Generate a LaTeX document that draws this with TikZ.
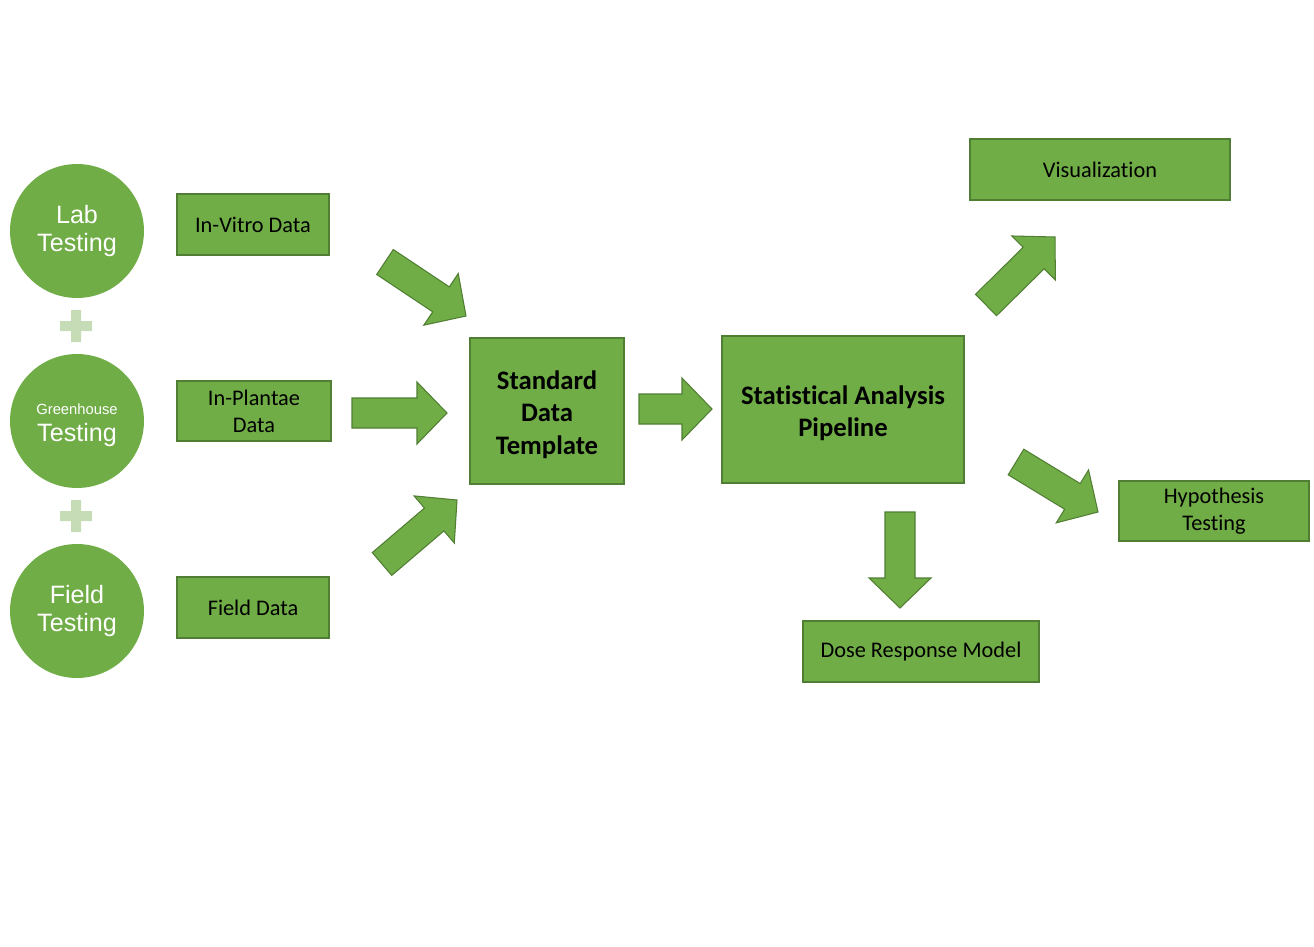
\documentclass[tikz,border=0pt]{standalone}
\usepackage{fontspec}
\setmainfont{Carlito}[RawFeature={-liga;-clig;-dlig}]
\newfontfamily\arialfont{Liberation Sans}
\usetikzlibrary{calc}
\definecolor{leafgreen}{HTML}{70AD47}
\definecolor{leafedge}{HTML}{507E32}
\definecolor{plusgreen}{HTML}{C5DCB6}
\tikzset{
  databox/.style={draw=leafedge, fill=leafgreen, line width=1.1pt, align=center, inner sep=0pt,
    font=\fontsize{12.7}{15.3}\selectfont},
  stagebox/.style={databox, font=\fontsize{15.2}{18.4}\selectfont\bfseries},
  testcircle/.style={circle, fill=leafgreen, minimum size=2.68cm, inner sep=0pt, text=white,
    align=center, font=\arialfont\fontsize{14.3}{15.4}\selectfont},
  fatarrow/.style={fill=leafgreen, draw=leafedge, line width=0.6pt, line join=miter}
}
% block arrow: name, tail, tip
\newcommand{\blockarrow}[3]{%
  \coordinate (#1-h) at ($(#3)!0.6cm!(#2)$);
  \draw[fatarrow] ($(#2)!0.3cm!90:(#3)$) -- ($(#1-h)!0.3cm!90:(#3)$) -- ($(#1-h)!0.62cm!90:(#3)$)
    -- (#3) -- ($(#1-h)!0.62cm!-90:(#3)$) -- ($(#1-h)!0.3cm!-90:(#3)$) -- ($(#2)!0.3cm!-90:(#3)$) -- cycle;}
\begin{document}
\begin{tikzpicture}[x=0.02cm, y=-0.02cm]
  \useasboundingbox (0,0) rectangle (1314,946);

  % Testing stages
  \node[testcircle] (lab) at (77,231) {Lab\\Testing};
  \node[testcircle] (greenhouse) at (77,421) {\rule{0pt}{10.5pt}{\fontsize{8.4}{10}\selectfont Greenhouse}\\Testing};
  \node[testcircle] (field) at (77,611) {Field\\Testing};

  % Plus signs
  \fill[plusgreen] (60,321) rectangle (92,331) (71,310) rectangle (81,342);
  \fill[plusgreen] (60,511) rectangle (92,521) (71,500) rectangle (81,532);

  % Data sources
  \node[databox, minimum width=3.04cm, minimum height=1.22cm] (vitro) at (253,224.5) {In-Vitro Data};
  \node[databox, minimum width=3.08cm, minimum height=1.2cm] (plantae) at (254,411) {In-Plantae\\Data};
  \node[databox, minimum width=3.04cm, minimum height=1.22cm] (fielddata) at (253,607.5) {Field Data};

  % Template and pipeline
  \node[stagebox, minimum width=3.08cm, minimum height=2.92cm] (template) at (547,411) {\rule{0pt}{14.8pt}Standard\\Data\\Template};
  \node[stagebox, minimum width=4.84cm, minimum height=2.94cm] (pipeline) at (843,409.5) {\rule{0pt}{14.8pt}Statistical Analysis\\Pipeline};

  % Outputs
  \node[databox, minimum width=5.2cm, minimum height=1.22cm] (visual) at (1100,169.5) {Visualization};
  \node[databox, minimum width=3.8cm, minimum height=1.2cm] (hypo) at (1214,511) {Hypothesis\\Testing};
  \node[databox, minimum width=4.72cm, minimum height=1.22cm] (dose) at (921,651.5) {Dose Response Model};

  % Arrow ends
  \coordinate (vitroOut) at (385,262);    \coordinate (templateInA) at (466,316);
  \coordinate (plantaeOut) at (352,413);  \coordinate (templateInB) at (447,413);
  \coordinate (fieldOut) at (382,564);    \coordinate (templateInC) at (457,500);
  \coordinate (templateOut) at (639,409); \coordinate (pipelineIn) at (712,409);
  \coordinate (pipeOutA) at (986,305);    \coordinate (visualIn) at (1055,237);
  \coordinate (pipeOutB) at (1016,462);   \coordinate (hypoIn) at (1098,512);
  \coordinate (pipeOutC) at (900,512);    \coordinate (doseIn) at (900,608);

  % Block arrows
  \blockarrow{a1}{vitroOut}{templateInA}
  \blockarrow{a2}{plantaeOut}{templateInB}
  \blockarrow{a3}{fieldOut}{templateInC}
  \blockarrow{a4}{templateOut}{pipelineIn}
  \blockarrow{a5}{pipeOutA}{visualIn}
  \blockarrow{a6}{pipeOutB}{hypoIn}
  \blockarrow{a7}{pipeOutC}{doseIn}
\end{tikzpicture}
\end{document}
